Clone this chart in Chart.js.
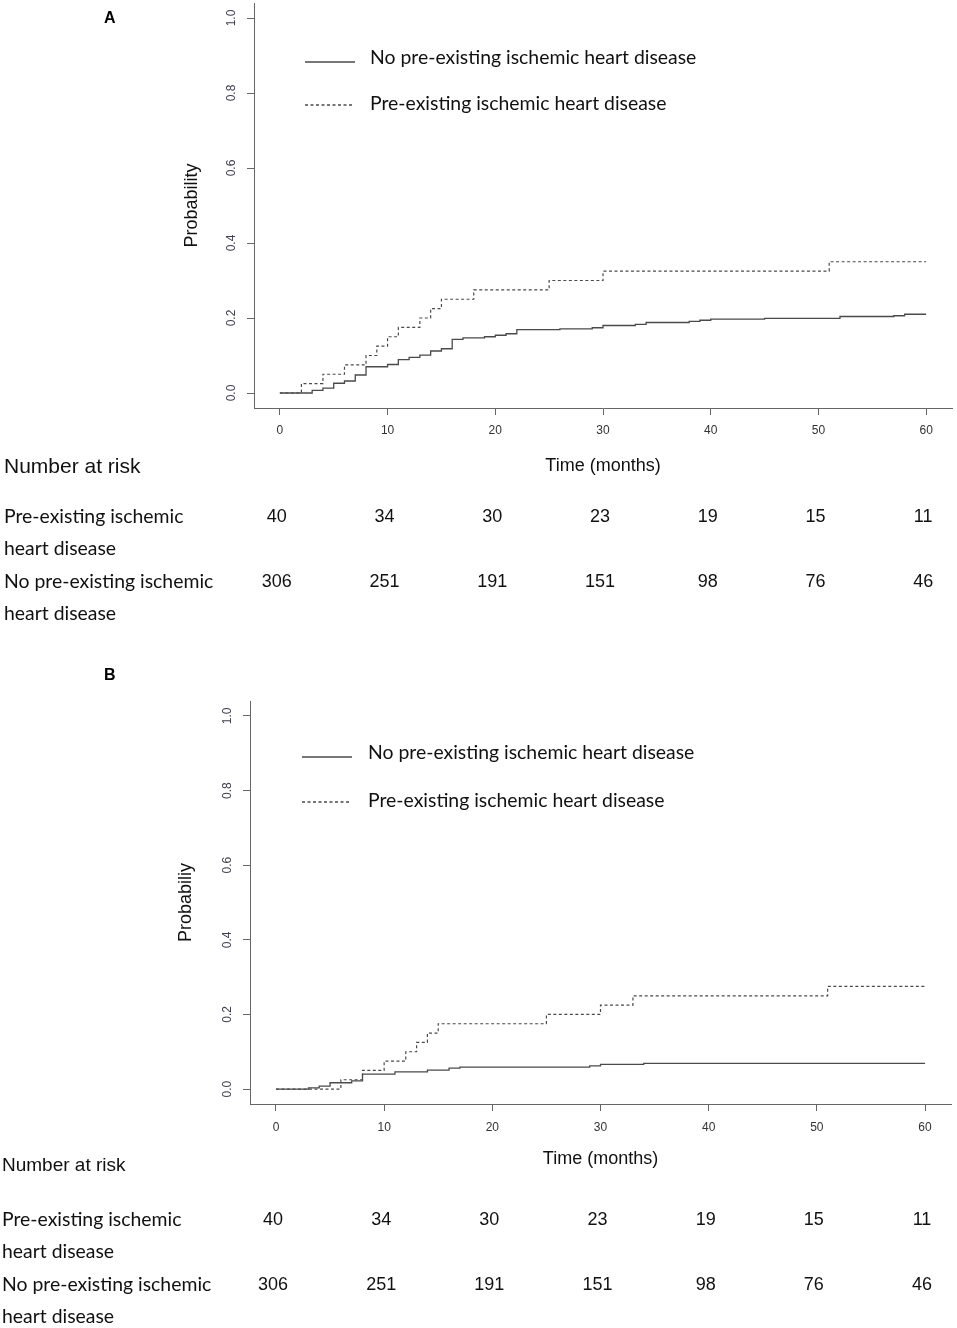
<!DOCTYPE html>
<html>
<head>
<meta charset="utf-8">
<script src="https://cdn.jsdelivr.net/npm/chart.js@4.4.1/dist/chart.umd.min.js"></script>
<style>
  body { margin: 0; background: #fff; width: 957px; height: 1328px; overflow: hidden; position: relative; }
  .panel { position: absolute; left: 0; width: 957px; }
  .tag { position: absolute; font: bold 16px 'Liberation Sans', Arial, sans-serif; color: #000; }
</style>
</head>
<body>
<div class="panel" style="top:0;height:650px"><canvas id="chartA"></canvas></div>
<div class="panel" style="top:650px;height:678px"><canvas id="chartB"></canvas></div>
<div class="tag" style="left:104px;top:9px">A</div>
<div class="tag" style="left:104px;top:666px">B</div>
<script>
  // axis ticks
  var xTicks = [0, 10, 20, 30, 40, 50, 60];
  var yTicks = [0, 0.2, 0.4, 0.6, 0.8, 1.0];
  var seriesNames = ["No pre-existing ischemic heart disease", "Pre-existing ischemic heart disease"];

  // panel A - step curves (time in months, cumulative probability)
  var timeA_no = [0, 3, 4, 5, 6, 7, 8, 10, 11, 12, 13, 14, 15, 16, 17, 19, 20, 21, 22, 26, 29, 30, 33, 34, 38, 39, 40, 45, 52, 57, 58, 60];
  var probA_no = [0, 0.007, 0.013, 0.026, 0.032, 0.048, 0.070, 0.076, 0.089, 0.095, 0.101, 0.112, 0.118, 0.143, 0.147, 0.150, 0.154, 0.158, 0.169, 0.171, 0.174, 0.180, 0.183, 0.188, 0.191, 0.194, 0.197, 0.199, 0.204, 0.206, 0.210, 0.210];
  var timeA_pre = [0, 2, 4, 6, 8, 9, 10, 11, 13, 14, 15, 18, 25, 30, 51, 60];
  var probA_pre = [0, 0.025, 0.05, 0.075, 0.1, 0.125, 0.15, 0.175, 0.2, 0.225, 0.25, 0.275, 0.3, 0.325, 0.35, 0.35];

  // panel B
  var timeB_no = [0, 3, 4, 5, 7, 8, 11, 14, 16, 17, 29, 30, 34, 60];
  var probB_no = [0, 0.003, 0.008, 0.017, 0.022, 0.040, 0.046, 0.051, 0.056, 0.059, 0.062, 0.066, 0.069, 0.069];
  var timeB_pre = [0, 6, 8, 10, 12, 13, 14, 15, 25, 30, 33, 51, 60];
  var probB_pre = [0, 0.025, 0.05, 0.075, 0.1, 0.125, 0.15, 0.175, 0.2, 0.225, 0.25, 0.275, 0.275];

  // number at risk (same for both panels)
  var riskTimes = [0, 10, 20, 30, 40, 50, 60];
  var riskPre = [40, 34, 30, 23, 19, 15, 11];
  var riskNo = [306, 251, 191, 151, 98, 76, 46];
  var riskLabelPre = ["Pre-existing ischemic", "heart disease"];
  var riskLabelNo = ["No pre-existing ischemic", "heart disease"];

  var sansR = "'Liberation Sans', Arial, sans-serif";
  var sansH = "Lato, 'Open Sans', sans-serif";
  var lineCol = '#4a4a4a';
  var axisCol = '#666';

  function pts(t, p) {
    return t.map(function(v, i) { return { x: v, y: p[i] }; });
  }

  // legend + risk table drawn on the canvas
  var extrasPlugin = {
    id: 'extras',
    afterDraw: function(chart) {
      var L = chart.options.plugins.extras;
      var ctx = chart.ctx;
      var xs = chart.scales.x;
      ctx.save();
      // legend
      ctx.strokeStyle = lineCol;
      ctx.lineWidth = 1.3;
      ctx.setLineDash([]);
      ctx.beginPath(); ctx.moveTo(L.legX0, L.legY1); ctx.lineTo(L.legX1, L.legY1); ctx.stroke();
      ctx.setLineDash([3, 2.5]);
      ctx.beginPath(); ctx.moveTo(L.legX0, L.legY2); ctx.lineTo(L.legX1 - 2, L.legY2); ctx.stroke();
      ctx.setLineDash([]);
      ctx.fillStyle = '#111';
      ctx.font = '19.4px ' + sansH;
      ctx.textBaseline = 'middle';
      ctx.textAlign = 'left';
      ctx.fillText(seriesNames[0], L.legTx, L.legY1 - 4);
      ctx.fillText(seriesNames[1], L.legTx, L.legY2 - 1);

      // number at risk
      ctx.font = L.nrFont + 'px ' + sansR;
      ctx.fillText("Number at risk", L.tabX, L.nrY);
      ctx.font = '19.4px ' + sansH;
      ctx.fillText(riskLabelPre[0], L.tabX, L.rowY[0]);
      ctx.fillText(riskLabelPre[1], L.tabX, L.rowY[1]);
      ctx.fillText(riskLabelNo[0], L.tabX, L.rowY[2]);
      ctx.fillText(riskLabelNo[1], L.tabX, L.rowY[3]);
      ctx.font = '18px ' + sansR;
      ctx.textAlign = 'center';
      for (var i = 0; i < riskTimes.length; i++) {
        var px = xs.getPixelForValue(riskTimes[i]) - 3;
        ctx.fillText(String(riskPre[i]), px, L.rowY[0]);
        ctx.fillText(String(riskNo[i]), px, L.rowY[2]);
      }
      ctx.restore();
    }
  };

  function makeChart(id, d, lay) {
    var yTitleText = lay.yTitle;
    return new Chart(document.getElementById(id), {
      type: 'line',
      data: {
        datasets: [
          { label: seriesNames[0], data: pts(d.tNo, d.pNo), stepped: true, borderColor: lineCol,
            borderWidth: 1.3, pointRadius: 0, fill: false },
          { label: seriesNames[1], data: pts(d.tPre, d.pPre), stepped: true, borderColor: lineCol,
            borderWidth: 1.2, borderDash: [3, 2.5], pointRadius: 0, fill: false }
        ]
      },
      options: {
        responsive: true,
        maintainAspectRatio: false,
        animation: false,
        layout: { padding: { top: lay.top, right: lay.right, bottom: lay.bottom, left: 0 } },
        plugins: { legend: { display: false }, tooltip: { enabled: false }, extras: lay },
        scales: {
          x: {
            type: 'linear', min: -2.4, max: 62.4,
            afterBuildTicks: function(s) { s.ticks = xTicks.map(function(v) { return { value: v }; }); },
            afterFit: function(s) { s.height = lay.xH; s.paddingLeft = 0; s.paddingRight = 0; },
            grid: { drawOnChartArea: false, drawTicks: true, tickLength: 7, color: axisCol },
            border: { display: true, color: axisCol, width: 1 },
            ticks: { padding: lay.xPad, color: '#333', font: { family: sansR, size: 12 } },
            title: { display: true, text: 'Time (months)', color: '#111', padding: 0,
                     font: { family: sansR, size: 18 } }
          },
          y: {
            type: 'linear', min: -0.04, max: 1.04,
            afterBuildTicks: function(s) { s.ticks = yTicks.map(function(v) { return { value: v }; }); },
            afterFit: function(s) { s.width = lay.yW; s.paddingTop = 0; s.paddingBottom = 0; },
            grid: { drawOnChartArea: false, drawTicks: true, tickLength: 7, color: axisCol },
            border: { display: true, color: axisCol, width: 1 },
            ticks: { padding: 6.7, color: '#404050', minRotation: 90, maxRotation: 90, crossAlign: 'center',
                     font: { family: sansR, size: 12 },
                     callback: function(v) { return v.toFixed(1); } },
            title: { display: true, text: yTitleText, color: '#111', padding: { top: lay.yTitlePad, bottom: 0 },
                     font: { family: sansR, size: 18 } }
          }
        }
      },
      plugins: [extrasPlugin]
    });
  }

  makeChart('chartA', { tNo: timeA_no, pNo: probA_no, tPre: timeA_pre, pPre: probA_pre }, {
    yTitle: 'Probability', top: 3, right: 5, bottom: 172.8, xH: 69.2, yW: 254, xPad: 8.5, yTitlePad: 181,
    legX0: 305, legX1: 355, legY1: 62, legY2: 105, legTx: 370,
    tabX: 4, nrFont: 21, nrY: 467, rowY: [517, 549, 582, 614]
  });

  makeChart('chartB', { tNo: timeB_no, pNo: probB_no, tPre: timeB_pre, pPre: probB_pre }, {
    yTitle: 'Probabiliy', top: 51, right: 6, bottom: 157.8, xH: 66.2, yW: 250, xPad: 9.5, yTitlePad: 175,
    legX0: 302, legX1: 352, legY1: 107, legY2: 152, legTx: 368,
    tabX: 2, nrFont: 19, nrY: 516, rowY: [570, 602, 635, 667]
  });
</script>
</body>
</html>
